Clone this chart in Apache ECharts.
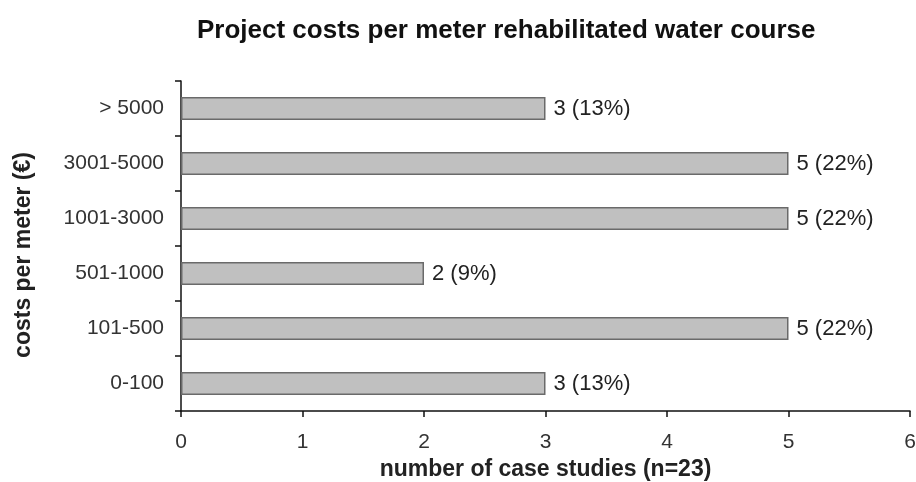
<!DOCTYPE html>
<html>
<head>
<meta charset="utf-8">
<script src="https://cdn.jsdelivr.net/npm/echarts@6/dist/echarts.min.js"></script>
<style>
  html, body { margin: 0; padding: 0; background: #fff; }
  #chart { width: 916px; height: 482px; }
</style>
</head>
<body>
<div id="chart"></div>
<script>
// categories from bottom to top (category axis draws first item at the bottom)
const costClasses = ['0-100', '101-500', '501-1000', '1001-3000', '3001-5000', '> 5000'];
const caseCounts = [3, 5, 2, 5, 5, 3];
const percentLabels = ['13%', '22%', '9%', '22%', '22%', '13%'];
const xTicks = [0, 1, 2, 3, 4, 5, 6];

const chart = echarts.init(document.getElementById('chart'));
const font = 'Liberation Sans, Arial, sans-serif';

chart.setOption({
    backgroundColor: '#fff',
    animation: false,
    title: {
        text: 'Project costs per meter rehabilitated water course',
        left: 192,
        top: 13,
        textStyle: { fontFamily: font, fontSize: 26, fontWeight: 'bold', color: '#111' }
    },
    // v6 keeps labels inside by default; the reference grid runs to the edge
    grid: { left: 181, right: 6, top: 81, bottom: 71, outerBoundsMode: 'none' },
    xAxis: {
        type: 'value',
        min: xTicks[0],
        max: xTicks[xTicks.length - 1],
        interval: 1,
        name: 'number of case studies (n=23)',
        nameLocation: 'middle',
        nameGap: 42,
        nameTextStyle: { fontFamily: font, fontSize: 23, fontWeight: 'bold', color: '#222' },
        axisLine: { show: true, lineStyle: { color: '#111', width: 1.5 } },
        axisTick: { show: true, length: 6, lineStyle: { color: '#111', width: 1.5 } },
        axisLabel: { fontFamily: font, fontSize: 21, color: '#333', margin: 21 },
        splitLine: { show: false }
    },
    yAxis: {
        type: 'category',
        data: costClasses,
        name: 'costs per meter (€)',
        nameLocation: 'middle',
        nameGap: 146,
        nameTextStyle: { fontFamily: font, fontSize: 23, fontWeight: 'bold', color: '#222', padding: [0, 18, 0, 0] },
        axisLine: { show: true, lineStyle: { color: '#111', width: 1.5 } },
        axisTick: { show: true, length: 6, lineStyle: { color: '#111', width: 1.5 } },
        axisLabel: { fontFamily: font, fontSize: 21, color: '#333', margin: 17 }
    },
    series: [{
        type: 'bar',
        data: caseCounts,
        barWidth: 23,
        itemStyle: { color: '#c0c0c0', borderColor: '#6a6a6a', borderWidth: 1.5 },
        label: {
            show: true,
            position: 'right',
            distance: 8,
            fontFamily: font,
            fontSize: 22,
            color: '#222',
            formatter: p => p.value + ' (' + percentLabels[p.dataIndex] + ')'
        }
    }]
});
</script>
</body>
</html>
